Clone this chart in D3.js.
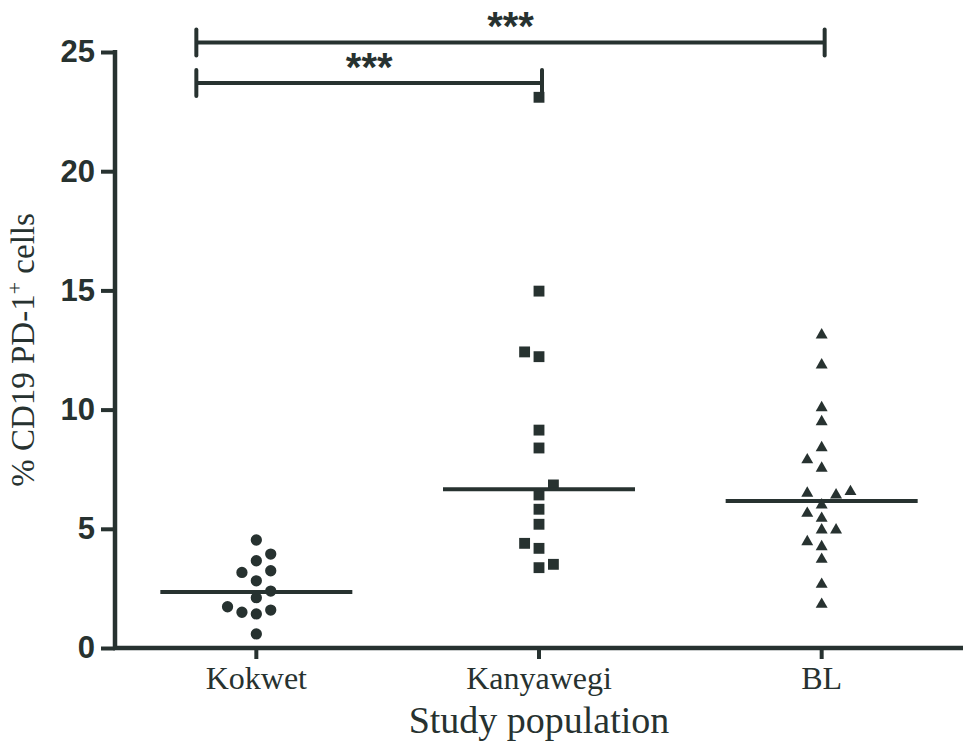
<!DOCTYPE html>
<html>
<head>
<meta charset="utf-8">
<script src="https://cdn.jsdelivr.net/npm/d3@7"></script>
<style>
  body { margin: 0; background: #ffffff; }
  svg { display: block; }
</style>
</head>
<body>
<script>
// column scatter: % CD19 PD-1+ cells by study population

var groups = ["Kokwet", "Kanyawegi", "BL"];

// values, with the lane each point sits in
var kokwetValues = [4.53, 3.94, 3.66, 3.17, 3.24, 2.82, 2.39, 2.11, 1.73, 1.50, 1.43, 1.59, 0.59];
var kokwetLanes  = [0, 1, 0, -1, 1, 0, 1, 0, -2, -1, 0, 1, 0];

var kanyawegiValues = [23.1, 14.97, 12.42, 12.22, 9.14, 8.39, 6.84, 6.42, 5.82, 5.19, 4.39, 4.18, 3.37, 3.51];
var kanyawegiLanes  = [0, 0, -1, 0, 0, 0, 1, 0, 0, 0, -1, 0, 0, 1];

var blValues = [13.13, 11.87, 10.08, 9.49, 8.40, 7.89, 7.54, 6.49, 6.42, 6.56, 6.00, 5.65, 5.44, 4.95, 4.95, 4.46, 4.25, 3.72, 2.67, 1.83];
var blLanes  = [0, 0, 0, 0, 0, -1, 0, -1, 1, 2, 0, -1, 0, 0, 1, -1, 0, 0, 0, 0];

var medians = [2.35, 6.66, 6.17];

var yTicks = [0, 5, 10, 15, 20, 25];

var comparisons = [
  {from: "Kokwet", to: "BL", level: 25.4, label: "***"},
  {from: "Kokwet", to: "Kanyawegi", level: 23.7, label: "***"}
];

var ink = "#273230";

var width = 963, height = 744;
var margin = {top: 52, right: 0, bottom: 96, left: 115};

var svg = d3.select("body").append("svg")
    .attr("width", width)
    .attr("height", height);

var x = d3.scaleBand()
    .domain(groups)
    .range([margin.left, width - margin.right]);

var y = d3.scaleLinear()
    .domain([0, 25])
    .range([height - margin.bottom, margin.top]);

var lane = d3.scaleLinear().domain([-1, 1]).range([-14.4, 14.4]);

function cx(g) { return x(g) + x.bandwidth() / 2; }

var series = [
  {group: "Kokwet", values: kokwetValues, lanes: kokwetLanes, shape: d3.symbolCircle, size: 100},
  {group: "Kanyawegi", values: kanyawegiValues, lanes: kanyawegiLanes, shape: d3.symbolSquare, size: 118},
  {group: "BL", values: blValues, lanes: blLanes, shape: d3.symbolTriangle, size: 62}
];

// points
series.forEach(function(s) {
  var pts = s.values.map(function(v, i) { return {v: v, l: s.lanes[i]}; });
  svg.append("g").selectAll("path")
      .data(pts)
    .enter().append("path")
      .attr("d", d3.symbol().type(s.shape).size(s.size))
      .attr("fill", ink)
      .attr("transform", function(d) {
        return "translate(" + (cx(s.group) + lane(d.l)) + "," + y(d.v) + ")";
      });
});

// median lines
svg.append("g").selectAll("line")
    .data(medians)
  .enter().append("line")
    .attr("x1", function(d, i) { return cx(groups[i]) - 96; })
    .attr("x2", function(d, i) { return cx(groups[i]) + 96; })
    .attr("y1", function(d) { return y(d); })
    .attr("y2", function(d) { return y(d); })
    .attr("stroke", ink)
    .attr("stroke-width", 4);

// y axis
var yAxis = svg.append("g")
    .attr("transform", "translate(" + margin.left + ",0)")
    .call(d3.axisLeft(y).tickValues(yTicks).tickSize(14).tickPadding(6).tickFormat(d3.format("d")));
yAxis.select(".domain").attr("stroke", ink).attr("stroke-width", 4.5)
    .attr("d", "M0," + (y(25) - 2) + "V" + (y(0) + 2));
yAxis.selectAll(".tick line").attr("stroke", ink).attr("stroke-width", 4);
yAxis.selectAll(".tick text")
    .attr("fill", ink)
    .style("font-family", "Liberation Sans, Arial, sans-serif")
    .style("font-weight", "bold")
    .style("font-size", "31px");

// x axis
var xAxis = svg.append("g")
    .attr("transform", "translate(0," + y(0) + ")")
    .call(d3.axisBottom(x).tickSize(11).tickPadding(7));
xAxis.select(".domain").attr("stroke", ink).attr("stroke-width", 4.5)
    .attr("d", "M" + (margin.left - 2) + ",0H" + width);
xAxis.selectAll(".tick line").attr("stroke", ink).attr("stroke-width", 4);
xAxis.selectAll(".tick text")
    .attr("fill", ink)
    .style("font-family", "Liberation Serif, Times New Roman, serif")
    .style("font-size", "32px");

// axis titles
svg.append("text")
    .attr("x", cx("Kanyawegi"))
    .attr("y", 733)
    .attr("text-anchor", "middle")
    .attr("fill", ink)
    .style("font-family", "Liberation Serif, Times New Roman, serif")
    .style("font-size", "38px")
    .text("Study population");

var yLabel = svg.append("text")
    .attr("transform", "translate(34," + ((y(0) + y(25)) / 2) + ") rotate(-90)")
    .attr("text-anchor", "middle")
    .attr("fill", ink)
    .style("font-family", "Liberation Serif, Times New Roman, serif")
    .style("font-size", "33px");
yLabel.append("tspan").text("% CD19 PD-1");
yLabel.append("tspan").attr("dy", -12).style("font-size", "22px").text("+");
yLabel.append("tspan").attr("dy", 12).text(" cells");

// significance brackets
var sig = svg.append("g").selectAll("g")
    .data(comparisons)
  .enter().append("g");

function left(d) { return cx(d.from) - 60; }
function right(d) { return cx(d.to) + 3; }

sig.append("line")
    .attr("x1", left).attr("x2", right)
    .attr("y1", function(d) { return y(d.level); })
    .attr("y2", function(d) { return y(d.level); })
    .attr("stroke", ink).attr("stroke-width", 4);

sig.append("line")
    .attr("x1", left).attr("x2", left)
    .attr("y1", function(d) { return y(d.level) - 13; })
    .attr("y2", function(d) { return y(d.level) + 13; })
    .attr("stroke", ink).attr("stroke-width", 4).attr("stroke-linecap", "round");

sig.append("line")
    .attr("x1", right).attr("x2", right)
    .attr("y1", function(d) { return y(d.level) - 13; })
    .attr("y2", function(d) { return y(d.level) + 13; })
    .attr("stroke", ink).attr("stroke-width", 4).attr("stroke-linecap", "round");

sig.append("text")
    .attr("x", function(d) { return (left(d) + right(d)) / 2; })
    .attr("y", function(d) { return y(d.level) - 2; })
    .attr("text-anchor", "middle")
    .attr("fill", ink)
    .style("font-family", "Liberation Sans, Arial, sans-serif")
    .style("font-weight", "bold")
    .style("font-size", "40px")
    .text(function(d) { return d.label; });
</script>
</body>
</html>
